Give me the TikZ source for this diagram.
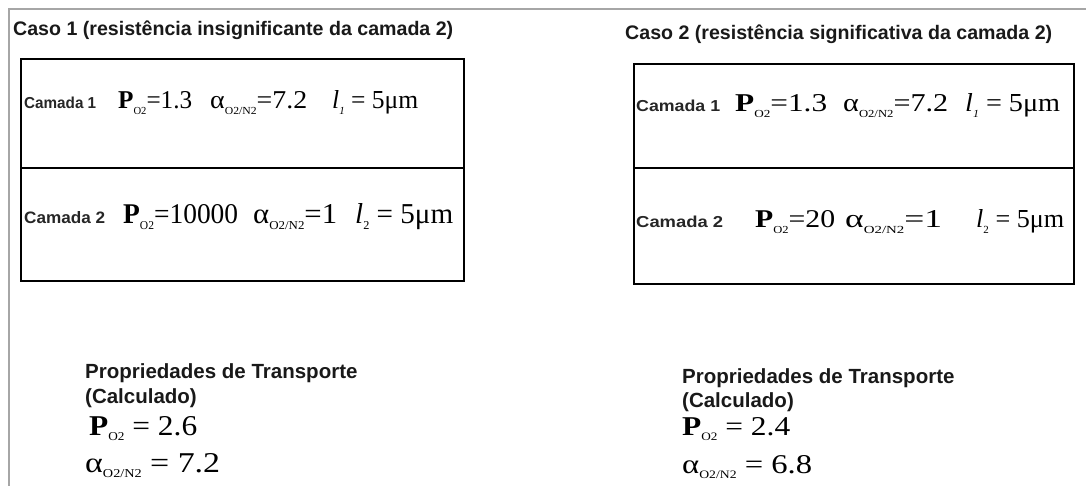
\documentclass[tikz,border=0pt]{standalone}
\usepackage{fontspec}
\setmainfont{Liberation Serif}
\newfontfamily\arial{Liberation Sans}
\newcommand\sbx[1]{\raisebox{-0.2em}{\scalebox{0.42}{#1}}}
\newcommand\fitbox[3]{\resizebox{#1pt}{#2pt}{#3}}
\begin{document}
\begin{tikzpicture}[x=1pt,y=-1pt,
  title/.style={font=\arial\bfseries\fontsize{19.6}{24}\selectfont, anchor=base west, inner sep=0pt, text=black!90},
  prop/.style={font=\arial\bfseries\fontsize{20.5}{24}\selectfont, anchor=base west, inner sep=0pt, text=black!90},
  lbl/.style={font=\arial\bfseries\fontsize{15}{18}\selectfont, anchor=base west, inner sep=0pt, text=black!85},
  eq/.style={font=\fontsize{24}{28}\selectfont, anchor=base west, inner sep=0pt},
  layer/.style={draw, line width=1.6pt, anchor=north west, inner sep=0pt},
  frame/.style={draw=gray!70, line width=2pt}]
\useasboundingbox (0,0) rectangle (1086,486);
\draw[frame] (9,486) -- (9,9) -- (1086,9);

% titles
\node[title] (t1) at (13,36) {Caso 1 (resistência insignificante da camada 2)};
\node[title] (t2) at (625,40) {Caso 2 (resistência significativa da camada 2)};

% case 1 layers
\node[layer, minimum width=443pt, minimum height=109pt] (a1) at (20,58) {};
\node[layer, minimum width=443pt, minimum height=113pt] (a2) at (20,167) {};
\node[lbl] (a1l) at (24,109) {\fitbox{72}{11.5}{Camada 1}};
\node[eq] (a1p) at (118,109) {\fitbox{74}{17}{\textbf{P}\sbx{O2}=1.3}};
\node[eq] (a1a) at (210,109) {\fitbox{97}{17}{α\sbx{O2/N2}=7.2}};
\node[eq] (a1t) at (332,109) {\fitbox{86}{18}{\textit{l}\sbx{\textit{1}} = 5μm}};
\node[lbl] (a2l) at (24,224) {\fitbox{81}{12}{Camada 2}};
\node[eq] (a2p) at (123,224) {\fitbox{115}{19}{\textbf{P}\sbx{O2}=10000}};
\node[eq] (a2a) at (253,224) {\fitbox{84}{19}{α\sbx{O2/N2}=1}};
\node[eq] (a2t) at (355,224) {\fitbox{98}{20}{\textit{l}\sbx{2} = 5μm}};

% case 2 layers
\node[layer, minimum width=440pt, minimum height=104pt] (b1) at (633,63) {};
\node[layer, minimum width=440pt, minimum height=116pt] (b2) at (633,167) {};
\node[lbl] (b1l) at (636,112) {\fitbox{84}{11.5}{Camada 1}};
\node[eq] (b1p) at (735,112) {\fitbox{92}{17}{\textbf{P}\sbx{O2}=1.3}};
\node[eq] (b1a) at (843,112) {\fitbox{105}{17}{α\sbx{O2/N2}=7.2}};
\node[eq] (b1t) at (965,112) {\fitbox{95}{18}{\textit{l}\sbx{\textit{1}} = 5μm}};
\node[lbl] (b2l) at (636,228) {\fitbox{87}{11.5}{Camada 2}};
\node[eq] (b2p) at (755,228) {\fitbox{80}{17}{\textbf{P}\sbx{O2}=20}};
\node[eq] (b2a) at (845,228) {\fitbox{97}{17}{α\sbx{O2/N2}=1}};
\node[eq] (b2t) at (976,228) {\fitbox{88}{18}{\textit{l}\sbx{2} = 5μm}};

% calculated properties
\node[prop] (r1a) at (85,378) {Propriedades de Transporte};
\node[prop] (r1b) at (85,403) {(Calculado)};
\node[eq] (r1p) at (89,435) {\fitbox{108}{19}{\textbf{P}\sbx{O2} = 2.6}};
\node[eq] (r1q) at (85,472) {\fitbox{135}{19}{α\sbx{O2/N2} = 7.2}};

\node[prop] (r2a) at (682,383) {Propriedades de Transporte};
\node[prop] (r2b) at (682,407) {(Calculado)};
\node[eq] (r2p) at (682,435) {\fitbox{108}{18}{\textbf{P}\sbx{O2} = 2.4}};
\node[eq] (r2q) at (682,473) {\fitbox{130}{18}{α\sbx{O2/N2} = 6.8}};
\end{tikzpicture}
\end{document}
